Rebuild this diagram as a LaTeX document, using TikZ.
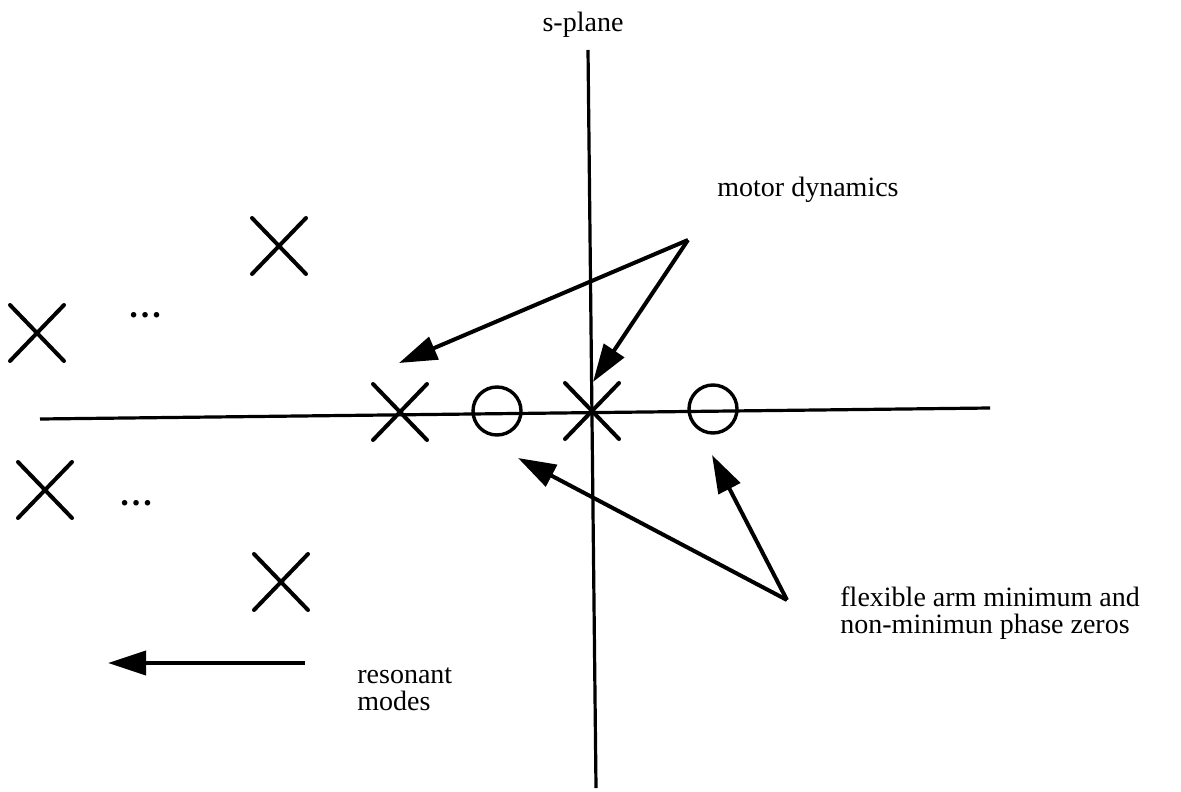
\documentclass[tikz,border=0pt]{standalone}
\usepackage{fontspec}
\setmainfont{Liberation Serif}
\usetikzlibrary{arrows.meta,shapes.misc}
\begin{document}
\begin{tikzpicture}[x=0.5pt,y=-0.5pt,
  axis/.style={line width=1.6pt},
  pole/.style={cross out, draw, line width=2pt, line cap=round,
    minimum width=25pt, minimum height=26pt, inner sep=0pt},
  zero/.style={circle, draw, line width=1.7pt, minimum size=24pt, inner sep=0pt},
  pointer/.style={line width=2pt, -{Triangle[length=19pt,width=12pt]}},
  lbl/.style={font=\fontsize{14}{13.5}\selectfont, align=left, inner sep=0pt},
  dots/.style={font=\fontsize{17}{17}\selectfont\bfseries, inner sep=0pt}]
\useasboundingbox (0,0) rectangle (1181,791);
% axes
\coordinate (yt) at (588,50);
\coordinate (yb) at (596,788);
\coordinate (xl) at (40,419);
\coordinate (xr) at (990,408);
\draw[axis] (yt) -- (yb);
\draw[axis] (xl) -- (xr);
\node[lbl, anchor=base] (sp) at (583,32) {s-plane};
% poles
\node[pole] (p1) at (279,246) {};
\node[pole] (p2) at (37,333) {};
\node[pole] (p3) at (45,490) {};
\node[pole] (p4) at (281,582) {};
\node[pole] (p5) at (400,412) {};
\node[pole] (p6) at (592,411) {};
% zeros
\node[zero] (z1) at (497,411) {};
\node[zero] (z2) at (713,409) {};
% dots
\node[dots] (d1) at (145,315) {…};
\node[dots] (d2) at (136,503) {…};
% motor dynamics
\node[lbl, anchor=base west] (mdl) at (717,197) {motor dynamics};
\coordinate (md) at (688,240);
\coordinate (mt1) at (399,363);
\coordinate (mt2) at (593,382);
\draw[pointer] (md) -- (mt1);
\draw[pointer] (md) -- (mt2);
% flexible arm
\node[lbl, anchor=base west] (fal) at (840,633) {flexible arm minimum and\\non-minimun phase zeros};
\coordinate (fa) at (787,600);
\coordinate (ft1) at (518,458);
\coordinate (ft2) at (712,455);
\draw[pointer] (fa) -- (ft1);
\draw[pointer] (fa) -- (ft2);
% resonant modes
\node[lbl, anchor=base west] (rml) at (357,710) {resonant\\modes};
\coordinate (rs) at (305,663);
\coordinate (rt) at (108,663);
\draw[pointer] (rs) -- (rt);
\end{tikzpicture}
\end{document}
